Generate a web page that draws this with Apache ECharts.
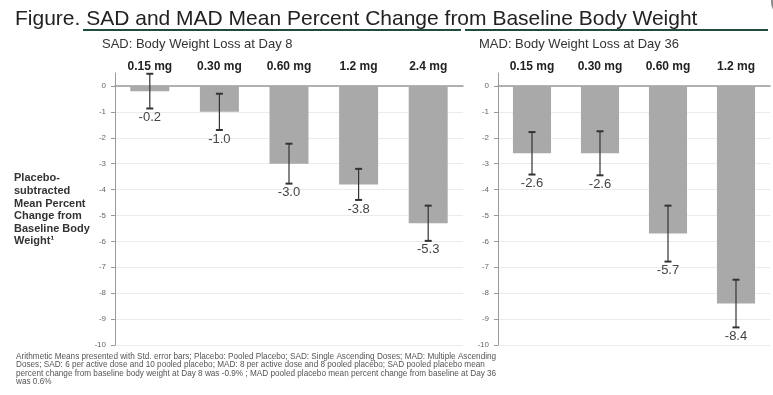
<!DOCTYPE html>
<html><head><meta charset="utf-8">
<script src="https://cdn.jsdelivr.net/npm/echarts@6/dist/echarts.min.js"></script>
<style>html,body{margin:0;padding:0;background:#fff}#c{width:773px;height:395px}</style>
</head><body><div id="c"></div>
<script>
// ---- data ----
const sadCats = ['0.15 mg', '0.30 mg', '0.60 mg', '1.2 mg', '2.4 mg'];
const sadMeans = [-0.2, -1.0, -3.0, -3.8, -5.3];
const sadSE = [0.67, 0.70, 0.77, 0.60, 0.68];
const madCats = ['0.15 mg', '0.30 mg', '0.60 mg', '1.2 mg'];
const madMeans = [-2.6, -2.6, -5.7, -8.4];
const madSE = [0.82, 0.85, 1.08, 0.92];
const yTicks = [0, -1, -2, -3, -4, -5, -6, -7, -8, -9, -10];

const titleText = 'Figure. SAD and MAD Mean Percent Change from Baseline Body Weight';
const sadTitle = 'SAD: Body Weight Loss at Day 8';
const madTitle = 'MAD: Body Weight Loss at Day 36';
const yName = 'Placebo-\nsubtracted\nMean Percent\nChange from\nBaseline Body\nWeight\u00b9';
const footnote = [
  'Arithmetic Means presented with Std. error bars; Placebo: Pooled Placebo; SAD: Single Ascending Doses; MAD: Multiple Ascending',
  'Doses; SAD: 6 per active dose and 10 pooled placebo; MAD: 8 per active dose and 8 pooled placebo; SAD pooled placebo mean',
  'percent change from baseline body weight at Day 8 was -0.9% ; MAD pooled placebo mean percent change from baseline at Day 36',
  'was 0.6%'
].join('\n');

const FONT = '"Liberation Sans", Arial, sans-serif';
const chart = echarts.init(document.getElementById('c'), null, {renderer: 'canvas'});

function yAxisCfg(idx) {
  return {
    type: 'value', gridIndex: idx, min: -10, max: 0.5, interval: 1,
    axisLine: {show: true, lineStyle: {color: '#9a9a9a', width: 1}},
    axisTick: {show: true, length: 4, customValues: yTicks, lineStyle: {color: '#9a9a9a'}},
    axisLabel: {customValues: yTicks, fontSize: 8, color: '#666', margin: 9, fontFamily: FONT},
    splitLine: {show: true, lineStyle: {color: '#ebebeb', width: 1}}
  };
}
function xAxisCfg(idx, cats) {
  return {
    type: 'category', gridIndex: idx, data: cats, position: 'top',
    axisLine: {show: true, onZero: true, lineStyle: {color: '#9a9a9a', width: 1.5}},
    axisTick: {show: false},
    axisLabel: {fontSize: 12, fontWeight: 'bold', color: '#222', margin: 0, fontFamily: FONT}
  };
}
function errSeries(idx, means, se) {
  return {
    type: 'custom', xAxisIndex: idx, yAxisIndex: idx, clip: false, z: 5,
    data: means.map((m, i) => [i, m, m + se[i], m - se[i]]),
    renderItem: function (params, api) {
      const hi = api.coord([api.value(0), api.value(2)]);
      const lo = api.coord([api.value(0), api.value(3)]);
      const x = hi[0], cw = 3.5;
      const st = {stroke: '#333', lineWidth: 1.2};
      return {
        type: 'group', children: [
          {type: 'line', shape: {x1: x, y1: hi[1], x2: x, y2: lo[1]}, style: st},
          {type: 'line', shape: {x1: x - cw, y1: hi[1], x2: x + cw, y2: hi[1]}, style: {stroke: '#333', lineWidth: 2}},
          {type: 'line', shape: {x1: x - cw, y1: lo[1], x2: x + cw, y2: lo[1]}, style: {stroke: '#333', lineWidth: 2}},
          {type: 'text', x: x, y: lo[1] + 9, style: {
            text: api.value(1).toFixed(1), fill: '#444', fontSize: 13, fontFamily: FONT,
            align: 'center', verticalAlign: 'middle'}}
        ]
      };
    }
  };
}
function barSeries(idx, means) {
  return {
    type: 'bar', xAxisIndex: idx, yAxisIndex: idx, data: means, barWidth: '56%',
    itemStyle: {color: '#a9a9a9'}, silent: true
  };
}

chart.setOption({
  animation: false,
  title: [
    {text: titleText, left: 10, top: 4, textStyle: {fontSize: 21, fontWeight: 'normal', color: '#222', fontFamily: FONT}},
    {text: sadTitle, left: 97, top: 33, textStyle: {fontSize: 13, fontWeight: 'normal', color: '#333', fontFamily: FONT}},
    {text: madTitle, left: 474, top: 33, textStyle: {fontSize: 13, fontWeight: 'normal', color: '#333', fontFamily: FONT}}
  ],
  grid: [
    {left: 115, top: 73, width: 348, bottom: 50},
    {left: 498, top: 73, width: 272, bottom: 50}
  ],
  xAxis: [xAxisCfg(0, sadCats), xAxisCfg(1, madCats)],
  yAxis: [yAxisCfg(0), yAxisCfg(1)],
  series: [
    barSeries(0, sadMeans), errSeries(0, sadMeans, sadSE),
    barSeries(1, madMeans), errSeries(1, madMeans, madSE)
  ],
  graphic: [
    {type: 'line', shape: {x1: 83, y1: 30, x2: 461, y2: 30}, style: {stroke: '#1f4d3b', lineWidth: 2}},
    {type: 'line', shape: {x1: 465, y1: 30, x2: 768, y2: 30}, style: {stroke: '#1f4d3b', lineWidth: 2}},
    {type: 'text', left: 14, top: 172, style: {text: yName, fontSize: 11, fontWeight: 'bold', lineHeight: 12.6, fill: '#333', fontFamily: FONT}},
    {type: 'text', left: 16, top: 352, style: {text: footnote, fontSize: 8.2, lineHeight: 8.6, fill: '#555', fontFamily: FONT}},
    {type: 'circle', shape: {cx: 787, cy: 2, r: 16}, style: {fill: '#8a8a8a'}}
  ]
});
</script></body></html>
